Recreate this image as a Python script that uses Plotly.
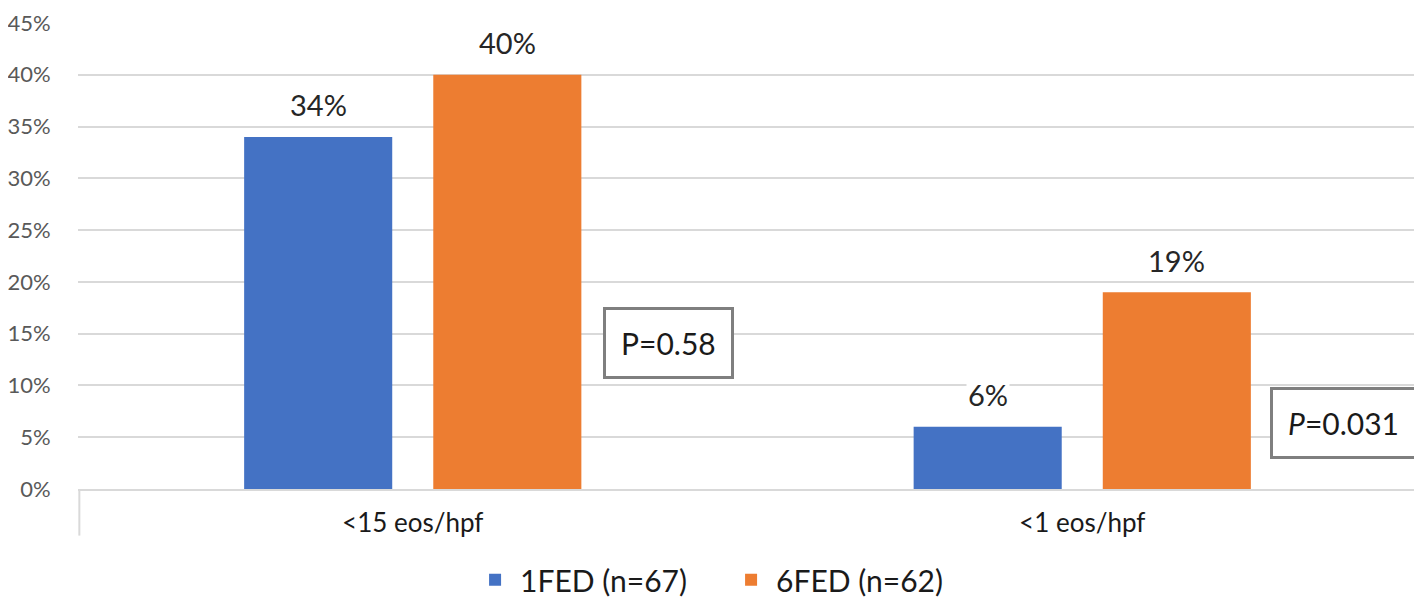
import plotly.graph_objects as go

categories = ["<15 eos/hpf", "<1 eos/hpf"]
series_names = ["1FED (n=67)", "6FED (n=62)"]
values_1fed = [34, 6]
values_6fed = [40, 19]
colors = ["#4472C4", "#ED7D31"]
y_ticks = [0, 5, 10, 15, 20, 25, 30, 35, 40, 45]
y_tick_labels = [f"{v}%" for v in y_ticks]
p_labels = ["P=0.58", "<i>P</i>=0.031"]

FONT = "Lato"
bargap = 0.435
bargroupgap = 0.217

fig = go.Figure()
for name, vals, col in zip(series_names, [values_1fed, values_6fed], colors):
    fig.add_trace(go.Bar(x=categories, y=vals, name=name, marker=dict(color=col, line=dict(width=0))))

# data labels with white background, positioned on the bar centres
slot = (1 - bargap) / 2
for s, vals in enumerate([values_1fed, values_6fed]):
    off = (s - 0.5) * slot
    for i, v in enumerate(vals):
        fig.add_annotation(x=i + off, y=v, xref="x", yref="y", text=f"{v}%",
                           showarrow=False, yshift=32, bgcolor="white",
                           xanchor="center", yanchor="middle",
                           font=dict(family=FONT, size=29, color="#262626"))

# P-value boxes
p_pos = [(0.441, 14.1 / 45), (0.945, 6.4 / 45)]
for (px, py), t in zip(p_pos, p_labels):
    fig.add_annotation(x=px, y=py, xref="paper", yref="paper", text=t, showarrow=False,
                       xanchor="center", yanchor="middle",
                       bordercolor="#7F7F7F", borderwidth=3, borderpad=15, bgcolor="white",
                       font=dict(family=FONT, size=30, color="#1a1a1a"))

# category-axis box edges
fig.add_shape(type="line", xref="paper", yref="paper", x0=0.001, x1=0.001, y0=0, y1=-0.1,
              line=dict(color="#D9D9D9", width=2))
fig.add_shape(type="line", xref="paper", yref="paper", x0=0.999, x1=0.999, y0=0, y1=-0.12,
              line=dict(color="#D9D9D9", width=2))

fig.update_layout(
    width=1422, height=599,
    margin=dict(l=70, r=13, t=15, b=118, autoexpand=False),
    plot_bgcolor="white", paper_bgcolor="white",
    barmode="group", bargap=bargap, bargroupgap=bargroupgap,
    font=dict(family=FONT),
    showlegend=True,
    legend=dict(orientation="h", x=0.484, xanchor="center", y=-0.195, yanchor="middle",
                font=dict(family=FONT, size=30, color="#1a1a1a"), itemwidth=40,
                entrywidth=201, entrywidthmode="pixels",
                tracegroupgap=0),
    xaxis=dict(showgrid=False, showline=True, linecolor="#D9D9D9", linewidth=2,
               automargin=False,
               ticks="outside", ticklen=10, tickcolor="rgba(0,0,0,0)",
               tickfont=dict(family=FONT, size=26, color="#1a1a1a")),
    yaxis=dict(range=[0, 45], tickvals=y_ticks, ticktext=y_tick_labels,
               automargin=False,
               showgrid=True, gridcolor="#D9D9D9", gridwidth=2, zeroline=False,
               ticks="outside", ticklen=22, tickcolor="rgba(0,0,0,0)",
               tickfont=dict(family=FONT, size=22, color="#595959")),
)

fig.write_html("out.html")
